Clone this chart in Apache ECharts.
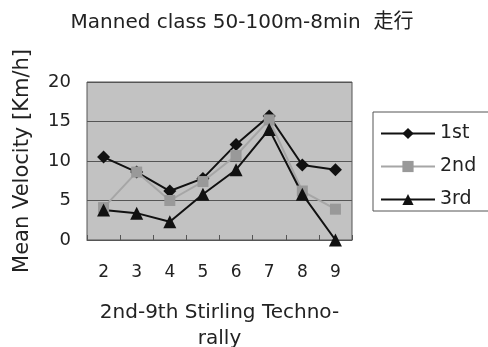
<!DOCTYPE html>
<html>
<head>
<meta charset="utf-8">
<script src="https://cdn.jsdelivr.net/npm/echarts@6/dist/echarts.min.js"></script>
<style>
  html, body { margin: 0; padding: 0; background: #fff; }
  #chart { width: 488px; height: 347px; }
</style>
</head>
<body>
<div id="chart"></div>
<script>
// 横軸：第2～9回
var categories = ['2', '3', '4', '5', '6', '7', '8', '9'];
var first = [10.5, 8.6, 6.2, 7.8, 12.1, 15.7, 9.5, 8.9];
var second = [4.1, 8.6, 5.0, 7.4, 10.7, 15.2, 6.2, 3.9];
var third = [3.8, 3.4, 2.3, 5.8, 8.9, 14.0, 5.8, 0];
var yTicks = [0, 5, 10, 15, 20];

var font = '"DejaVu Sans", "Noto Sans CJK JP", sans-serif';

var chart = echarts.init(document.getElementById('chart'));

var option = {
  backgroundColor: '#fff',
  animation: false,
  title: {
    text: 'Manned class 50-100m-8min  走行',
    left: 237,
    textAlign: 'center',
    top: 8,
    textStyle: { fontFamily: font, fontSize: 20, fontWeight: 'normal', color: '#222' }
  },
  legend: {
    data: ['1st', '2nd', '3rd'],
    orient: 'vertical',
    left: 373,
    top: 112,
    itemWidth: 54,
    itemHeight: 14,
    itemGap: 14,
    padding: [12, 14, 2, 7],
    borderColor: '#555',
    borderWidth: 1,
    textStyle: { fontFamily: font, fontSize: 19, color: '#222' }
  },
  grid: {
    left: 87,
    right: 136,
    top: 82,
    bottom: 107,
    outerBoundsMode: 'none',
    show: true,
    backgroundColor: '#c2c2c2',
    borderColor: '#555',
    borderWidth: 1
  },
  xAxis: {
    type: 'category',
    data: categories,
    boundaryGap: true,
    name: '2nd-9th Stirling Techno-\nrally',
    nameLocation: 'middle',
    nameGap: 60,
    nameTextStyle: { fontFamily: font, fontSize: 20, color: '#222', lineHeight: 26, verticalAlign: 'top' },
    axisLine: { lineStyle: { color: '#555', width: 1 } },
    axisTick: { show: true, inside: true, length: 5, lineStyle: { color: '#555' } },
    axisLabel: { fontFamily: font, fontSize: 17, color: '#222', margin: 24 }
  },
  yAxis: {
    type: 'value',
    min: 0,
    max: 20,
    interval: 5,
    name: 'Mean Velocity [Km/h]',
    nameLocation: 'middle',
    nameGap: 54,
    nameTextStyle: { fontFamily: font, fontSize: 21, color: '#222' },
    axisLine: { show: false },
    axisTick: { show: false },
    axisLabel: {
      fontFamily: font, fontSize: 18, color: '#222', margin: 16,
      formatter: function (v) { return yTicks.indexOf(v) >= 0 ? String(v) : ''; }
    },
    splitLine: { lineStyle: { color: '#555', width: 1 } }
  },
  series: [
    {
      name: '1st', type: 'line', data: first,
      symbol: 'diamond', symbolSize: 13,
      lineStyle: { color: '#111', width: 2 },
      itemStyle: { color: '#111' }
    },
    {
      name: '2nd', type: 'line', data: second,
      symbol: 'rect', symbolSize: 11,
      lineStyle: { color: '#a6a6a6', width: 2 },
      itemStyle: { color: '#999' }
    },
    {
      name: '3rd', type: 'line', data: third,
      symbol: 'triangle', symbolSize: 13,
      lineStyle: { color: '#111', width: 2 },
      itemStyle: { color: '#111' }
    }
  ]
};

chart.setOption(option);
</script>
</body>
</html>
